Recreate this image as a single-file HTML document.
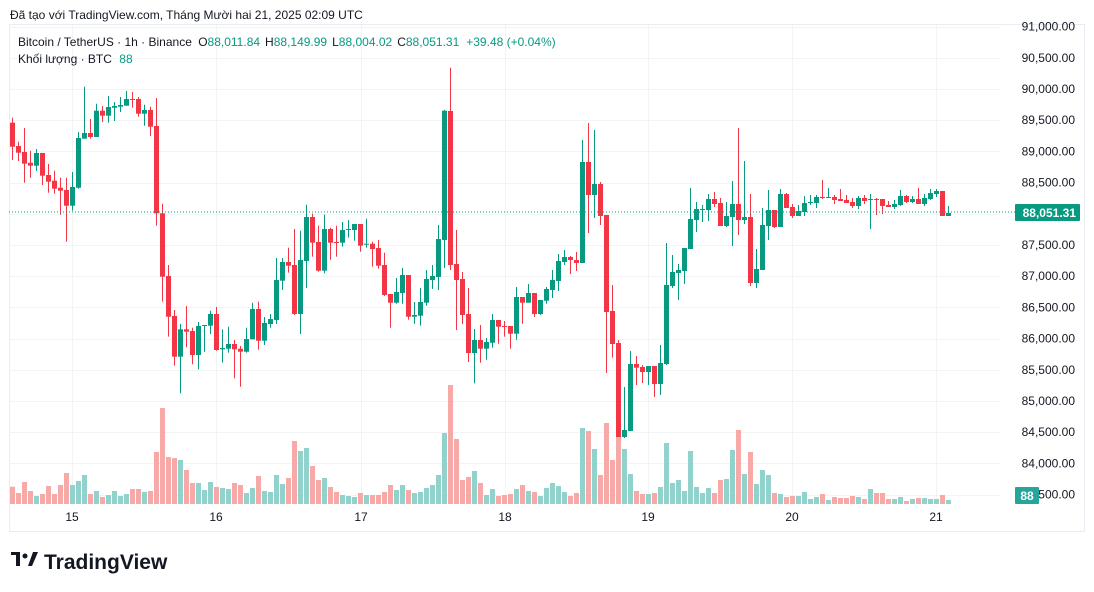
<!DOCTYPE html>
<html><head><meta charset="utf-8"><style>
html,body{margin:0;padding:0;background:#fff;width:1094px;height:592px;overflow:hidden;font-family:"Liberation Sans","DejaVu Sans",sans-serif}
svg{position:absolute;left:0;top:0}
</style></head><body>
<svg id="s" width="1094" height="592" xmlns="http://www.w3.org/2000/svg" font-family="Liberation Sans, DejaVu Sans, sans-serif">
<rect x="9.5" y="24.5" width="1075" height="507" fill="#fff" stroke="#e9ecf2" stroke-width="1"/>
<g id="grid"></g>
<g id="vol"></g>
<g id="cdl"></g>
<line x1="9" y1="212" x2="1015" y2="212" stroke="#089981" stroke-width="1" stroke-dasharray="1,2"/>
<g id="ax" font-size="12" fill="#131722"></g>
<rect x="1015" y="204" width="65" height="17" fill="#089981" rx="1"/>
<text x="1076" y="217" font-size="12" fill="#fff" text-anchor="end" font-weight="bold">88,051.31</text>
<rect x="1015" y="487" width="24" height="17" fill="#26a69a" rx="1"/>
<text x="1027" y="500" font-size="12" fill="#fff" text-anchor="middle" font-weight="bold">88</text>
<text x="10" y="19" font-size="12" fill="#131722">Đã tạo với TradingView.com, Tháng Mười hai 21, 2025 02:09 UTC</text>
<text x="18" y="46" font-size="12" fill="#131722">Bitcoin / TetherUS · 1h · Binance <tspan dx="3">O</tspan><tspan fill="#089981">88,011.84</tspan><tspan dx="5">H</tspan><tspan fill="#089981">88,149.99</tspan><tspan dx="5">L</tspan><tspan fill="#089981">88,004.02</tspan><tspan dx="5">C</tspan><tspan fill="#089981">88,051.31</tspan><tspan dx="7" fill="#089981">+39.48 (+0.04%)</tspan></text>
<text x="18" y="63" font-size="12" fill="#131722">Khối lượng · BTC <tspan dx="4" fill="#089981">88</tspan></text>
<g transform="translate(11,552)" fill="#131722">
<rect x="0" y="0" width="9" height="3"/><rect x="5" y="0" width="4" height="14"/>
<circle cx="14" cy="4" r="2.5"/><path d="M17 14 L22 0 L27 0 L21 14 Z"/>
</g>
<text x="44" y="569" font-size="21" font-weight="bold" fill="#131722">TradingView</text>
</svg>
<script>
var NS="http://www.w3.org/2000/svg";
function el(p,t,a,txt){var e=document.createElementNS(NS,t);for(var k in a)e.setAttribute(k,a[k]);if(txt)e.textContent=txt;document.getElementById(p).appendChild(e);}
function Y(p){return 89+(90000-p)/500*31.2;}
var prices=[91000,90500,90000,89500,89000,88500,88000,87500,87000,86500,86000,85500,85000,84500,84000,83500];
prices.forEach(function(p){var y=Math.round(Y(p))+0.5;el("grid","line",{x1:9,x2:1000,y1:y,y2:y,stroke:"#f2f3f5"});
 if(p!==88000) el("ax","text",{x:1075,y:Y(p)+4,"text-anchor":"end"},p.toLocaleString("en-US")+".00");});
var days=[[72,"15"],[216,"16"],[361,"17"],[505,"18"],[648,"19"],[792,"20"],[936,"21"]];
days.forEach(function(d){el("grid","line",{x1:d[0]+0.5,x2:d[0]+0.5,y1:25,y2:505,stroke:"#f2f3f5"});el("ax","text",{x:d[0],y:521,"text-anchor":"middle"},d[1]);});
var C=[[122.7,146.7,117.7,160],[146,152.7,141.7,161],[152,163.7,128,182.7],[162.7,165.7,150.7,177.7],[165.7,153,149,171],[153,175.7,153,185],[175,181.7,164,192.7],[180.7,188.7,170.7,193.7],[187.7,190.7,177.7,214.7],[190,205.7,177.7,241.7],[205.7,187,172,210.7],[187.7,138,132,188.7],[138.7,133,86.7,138.7],[133,137,119,138.7],[137,110.7,103.7,137],[110.7,115.7,106,122],[115.7,107,96,122.7],[107.7,106,102,121],[106.7,105,97,112],[105.7,99,91,105.7],[99,100,92,107.7],[99,113.7,97,116.7],[113.7,110,104.7,125.7],[110,126.7,106.7,136],[126,213.3,98,225.7],[213.3,276.7,203.7,301.7],
[276,316.7,265,336.7],[316,356.7,310,365.7],[356.7,329.3,324,393.3],[329.3,331.7,306,347.3],[331,355,327.7,364.3],[355,326,322,369.3],[325.7,325,325,351.7],[325.7,314,310.7,334],[314,350,307,350.7],[349.3,348,329.3,362.7],[348.7,344,326.7,352.7],[344,349.3,340,378.3],[348.7,351.7,346,386.7],[351.7,339,327.7,352.7],[339.3,309,302.7,339.3],[309,340.7,301.7,349.7],[340.7,323,317,345],[324,319,314,327.7],[320,280,258,324],[280.7,262,258,290],[262,265.7,247.7,272.7],[265,314,229,315],[314,260,230.7,334],[261,217,204.7,288],[217,242.7,213.7,256.7],[242,270.7,225.7,271.7],
[270.7,229,214.7,273.3],[229,242.7,227.7,259.7],[242,243,225.7,256.7],[242.7,230,222,246.7],[230,229,220,237.7],[230,224,224,240.7],[224,245.7,224,251.7],[244.7,243.7,218.7,247.7],[243.7,249,241.7,266.7],[248,265.7,240,268.7],[265,295,252.7,296],[294,302.7,294,327.7],[302.7,292,278,303.7],[293,275,268,303.7],[275,316.7,275,319.7],[316.7,315,302,323.7],[315.7,302,288,325.7],[302.7,279,270,305.7],[280,276,265,289],[277,239,225,290],[240,110.7,110,268],[111,265,67.7,270],[264,280,230,330],[279,315,272,324],[314,353,288,362],[353,340,329,383.3],
[340,348.7,325,362.7],[348.7,342,338,359.7],[342.7,320,314,347.7],[320,326.7,320,343.7],[326,326.7,321,336.7],[326,333.7,326,348.7],[333.7,297,287,339.7],[297,302.7,297,323.7],[302.7,293,284,302.7],[293,314,293,317],[314,300,300,315],[300.7,289,287,303.7],[290,280,270,298],[281,261,254,291],[262,257,250,265],[257,260,256,274],[260,263,252,271],[263,162,140,263],[162,195,123,233],[195,184,130,218],[184,216,182,225],[215,312,215,373],[311,344,285,357.7],[343,437,340,437],[437,430,387,438],[431,364,351,431],
[364,367.7,356,385],[367,372,365,383],[372,366,366,385],[366,384,366,397],[384,363,345,395],[364,285,243,365],[286,272,255,288],[273,270,264,300],[271,248,248,284],[249,219,188,249],[220,209,202,232],[210,209,205,222],[210,199,194,221],[199,204,192,207],[203,226,198,226],[226,216,202,227],[217,204,181,246],[204,220,128,235],[220,217,161,224],[217,283,194,286],[283,269,249,288],[270,225,208,270],[226,210,190,240],[210,227,210,228],[227,194,189,227],[194,208,193,208],
[207,216,204,218],[216,211,205,216],[212,203,196,216],[203,202,195,205],[203,197,195,208],[197,198,180,199],[198,197,188,198],[197,200,195,204],[199,201,189,201],[200,203,195,203],[202,206,198,208],[206,198,196,209],[198,201,195,204],[200,199,194,229],[199,200,198,215],[199,206,199,214],[205,207,201,207],[207,204,200,209],[205,196,190,206],[196,202,195,203],[202,199,196,203],[199,204,188,204],[204,198,194,206],[199,193,189,200],[194,191,189,197],[191,216,191,216],[216,213,206,216]];
var V=[486.7,493,482,491,496,494,486,494,485,473,485,481,475,494,491,497,495,491,496,494,489,489,492,491,452,408,457,458,460,470,483,483,490,482,487,488,489,483,485,493,488,476,491,492,475,484,478,441,451,448,466,480,478,487,492,495,496,497,493,495,495,495,492,485,490,485,490,493,492,488,485,475,433,385,439,480,477,471,483,495,489,496,495,494,489,485,491,492,496,488,483,486,492,496,493,428,431,449,475,423,460,437,449,474,491,494,494,493,487,443,483,480,491,451,487,493,488,493,480,479,450,430,474,452,484,470,475,493,494,497,496,496,492,499,497,494,500,497,498,498,496,497,499,489,493,493,499,499,497,501,499,498,498,499,499,495,500];
C.forEach(function(c,i){var x=12+6*i;var up=c[1]<c[0];var col=up?"#089981":"#F23645";
 el("cdl","rect",{x:x,y:c[2],width:1,height:Math.max(1,c[3]-c[2]),fill:col});
 var t=Math.min(c[0],c[1]),b=Math.max(c[0],c[1]);
 el("cdl","rect",{x:x-2,y:t,width:5,height:Math.max(1,b-t),fill:col});
 var v=V[i];el("vol","rect",{x:x-2,y:v,width:5,height:504-v,fill:up?"#92d2cc":"#f7a9a7"});});
</script>
</body></html>
